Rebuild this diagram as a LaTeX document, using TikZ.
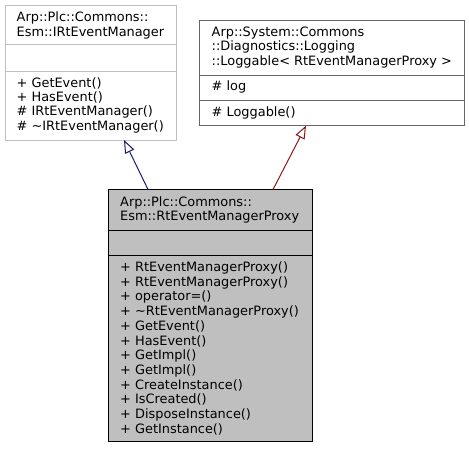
\documentclass[tikz,border=0pt]{standalone}
\usepackage{fontspec}
\setmainfont{DejaVu Sans}
\usetikzlibrary{arrows.meta,calc}
\definecolor{greyfs}{HTML}{BFBFBF}
\definecolor{grayfo}{HTML}{666666}
\definecolor{mblue}{HTML}{191970}
\definecolor{fbrick}{HTML}{8B1A1A}
\begin{document}
\begin{tikzpicture}[x=1pt,y=-1pt,
  box/.style={draw,line width=1pt,anchor=north west,inner sep=0pt,outer sep=0pt},
  txt/.style={anchor=base west,inner sep=0pt,font=\fontsize{12.9}{14.5}\selectfont},
  inh/.style={line width=1pt,-{Triangle[open,length=13pt,width=10pt,fill=white]}}]
\useasboundingbox (0,0) rectangle (469,448);
% boxes
\node[box,draw=greyfs,fill=white,minimum width=171pt,minimum height=135pt] (L) at (5,5) {};
\node[box,draw=grayfo,fill=white,minimum width=265pt,minimum height=105pt] (R) at (199.3,20.7) {};
\node[box,draw=black,fill=greyfs,minimum width=203.5pt,minimum height=251.5pt] (B) at (108.5,189.5) {};
% separators
\draw[greyfs,line width=1pt] ([yshift=-39.3pt]L.north west) -- ([yshift=-39.3pt]L.north east);
\draw[greyfs,line width=1pt] ([yshift=-66pt]L.north west) -- ([yshift=-66pt]L.north east);
\draw[grayfo,line width=1pt] ([yshift=-54.6pt]R.north west) -- ([yshift=-54.6pt]R.north east);
\draw[grayfo,line width=1pt] ([yshift=-79.6pt]R.north west) -- ([yshift=-79.6pt]R.north east);
\draw[black,line width=1pt] ([yshift=-41.2pt]B.north west) -- ([yshift=-41.2pt]B.north east);
\draw[black,line width=1pt] ([yshift=-65.5pt]B.north west) -- ([yshift=-65.5pt]B.north east);
% left box text
\node[txt] (lt1) at (16.5,21.7) {Arp::Plc::Commons::};
\node[txt] (lt2) at (16.5,36) {Esm::IRtEventManager};
\foreach \t [count=\i] in {+ GetEvent(),+ HasEvent(),\# IRtEventManager(),\# \textasciitilde IRtEventManager()}
  \node[txt] (lm\i) at (16.5,87.3+14.25*\i-14.25) {\t};
% right box text
\node[txt] (rt1) at (211.5,36) {Arp::System::Commons};
\node[txt] (rt2) at (211.5,50.7) {::Diagnostics::Logging};
\node[txt] (rt3) at (211.5,65) {::Loggable< RtEventManagerProxy >};
\node[txt] (ra1) at (211.5,90.7) {\# log};
\node[txt] (rm1) at (211.5,116) {\# Loggable()};
% bottom box text
\node[txt] (bt1) at (120,206) {Arp::Plc::Commons::};
\node[txt] (bt2) at (120,220.3) {Esm::RtEventManagerProxy};
\foreach \t [count=\i] in {+ RtEventManagerProxy(),+ RtEventManagerProxy(),+ operator=(),+ \textasciitilde RtEventManagerProxy(),+ GetEvent(),+ HasEvent(),+ GetImpl(),+ GetImpl(),+ CreateInstance(),+ IsCreated(),+ DisposeInstance(),+ GetInstance()}
  \node[txt] (bm\i) at (120,271.5+14.7*\i-14.7) {\t};
% inheritance arrows
\draw[inh,mblue] ($(B.north west)+(39.5,0)$) -- ($(L.south west)+(119,0)$);
\draw[inh,fbrick] ($(B.north west)+(164.5,0)$) -- ($(R.south west)+(106.7,0)$);
\end{tikzpicture}
\end{document}
